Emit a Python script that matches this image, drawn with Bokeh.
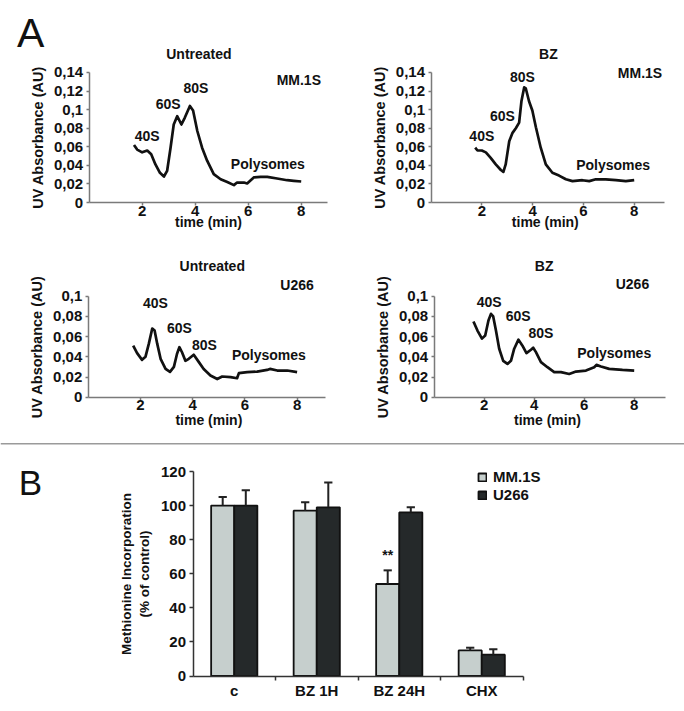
import numpy as np
from bokeh.plotting import figure
from bokeh.models import (Label, FixedTicker, Range1d, Legend, LegendItem,
                          CustomJSTickFormatter, Span)
from bokeh.layouts import column, row
from bokeh.embed import file_html
from bokeh.resources import INLINE

FONT = "Liberation Sans"

# ---------------- Panel A data (UV absorbance profiles) ----------------
mm_untr_t = [1.69, 1.81, 2.0, 2.19, 2.34, 2.5, 2.67, 2.82, 2.94, 3.07, 3.19, 3.32, 3.48, 3.61, 3.8,
             3.92, 4.08, 4.26, 4.45, 4.7, 4.96, 5.21, 5.46, 5.58, 5.84, 5.96, 6.21, 6.47, 6.72,
             7.09, 7.47, 7.72, 8.0]
mm_untr_a = [.062, .057, .054, .056, .052, .041, .032, .028, .034, .059, .084, .093, .084, .0915,
             .104, .099, .077, .059, .045, .0305, .025, .022, .0187, .0215, .0215, .0205, .027,
             .0276, .0276, .0258, .024, .0233, .0226]

mm_bz_t = [1.74, 1.83, 2.0, 2.16, 2.35, 2.55, 2.75, 2.85, 2.94, 3.08, 3.21, 3.34, 3.47, 3.56, 3.67,
           3.73, 3.86, 3.99, 4.13, 4.32, 4.52, 4.78, 5.04, 5.31, 5.57, 5.96, 6.23, 6.49, 6.88,
           7.28, 7.67, 8.0]
mm_bz_a = [.059, .056, .056, .054, .048, .041, .035, .033, .041, .066, .075, .080, .086, .109,
           .124, .123, .109, .099, .081, .059, .041, .032, .029, .025, .023, .024, .023, .025,
           .025, .024, .023, .024]

u_untr_t = [1.72, 1.87, 2.06, 2.19, 2.32, 2.45, 2.54, 2.64, 2.77, 2.96, 3.13, 3.28, 3.4, 3.49,
            3.59, 3.72, 3.85, 4.04, 4.23, 4.42, 4.68, 4.94, 5.13, 5.45, 5.7, 5.77, 6.09, 6.47,
            6.85, 6.96, 7.24, 7.62, 8.0]
u_untr_a = [.051, .0436, .037, .040, .053, .068, .066, .053, .038, .028, .025, .030, .043, .0495,
            .0445, .036, .038, .042, .035, .028, .0215, .018, .0205, .0198, .0188, .0238, .0248,
            .0254, .027, .028, .0264, .0264, .0248]

u_bz_t = [1.57, 1.73, 1.91, 2.04, 2.17, 2.27, 2.36, 2.47, 2.6, 2.76, 2.93, 3.07, 3.2, 3.37, 3.53,
          3.69, 3.87, 3.96, 4.07, 4.27, 4.53, 4.8, 5.07, 5.4, 5.67, 6.07, 6.4, 6.49, 6.67, 7.0,
          7.53, 8.0]
u_bz_a = [.075, .066, .058, .061, .076, .0825, .080, .066, .048, .036, .033, .036, .048, .057,
          .051, .0436, .047, .049, .0446, .0347, .0297, .0248, .0248, .023, .0254, .0264, .0297,
          .032, .0304, .028, .027, .0264]

x_ticks = [2, 4, 6, 8]
y_ticks_mm = [0, 0.02, 0.04, 0.06, 0.08, 0.1, 0.12, 0.14]
y_ticks_u = [0, 0.02, 0.04, 0.06, 0.08, 0.1]

# ---------------- Panel B data (methionine incorporation) ----------------
categories = ["c", "BZ 1H", "BZ 24H", "CHX"]
mm1s_vals = [100, 97, 54, 15]
mm1s_err = [5, 5, 8, 1.6]
u266_vals = [100, 99, 96, 12.5]
u266_err = [9, 14.5, 3, 3.2]
b_ticks = [0, 20, 40, 60, 80, 100, 120]

AXIS_GREY = "#7a7a7a"
TXT = "#111111"


def base_fig(W, H, ox, oy, sx, sy, x_axis=True):
    """Figure whose frame fills the whole canvas; data origin at pixel (ox, oy)."""
    kw = {}
    if not x_axis:
        kw = dict(x_axis_location=None, y_axis_location=None)
    p = figure(frame_width=W, frame_height=H,
               x_range=Range1d(-ox / sx, (W - ox) / sx),
               y_range=Range1d(-(H - oy) / sy, oy / sy),
               output_backend="svg", toolbar_location=None, min_border=0, **kw)
    p.outline_line_color = None
    p.xgrid.visible = False
    p.ygrid.visible = False
    if x_axis:
        p.xaxis.fixed_location = 0
        p.yaxis.fixed_location = 0
    return p


def add_text(p, x, y, text, size="14px", style="bold"):
    p.add_layout(Label(x=x, y=y, text=text, text_font=FONT, text_font_size=size,
                       text_font_style=style, text_align="center", text_baseline="middle",
                       text_color=TXT))


def profile(t, a, W, H, ox, oy, sx, sy, xmax, ymax, yticks, texts):
    p = base_fig(W, H, ox, oy, sx, sy)
    p.xaxis.ticker = FixedTicker(ticks=x_ticks)
    p.yaxis.ticker = FixedTicker(ticks=yticks)
    p.xaxis.bounds = (0, xmax)
    p.yaxis.bounds = (0, ymax)
    p.yaxis.formatter = CustomJSTickFormatter(code="return tick.toString().replace('.', ',');")
    for ax in (p.xaxis[0], p.yaxis[0]):
        ax.axis_line_color = AXIS_GREY
        ax.axis_line_width = 1.5
        ax.major_tick_line_color = AXIS_GREY
        ax.major_tick_line_width = 1.5
        ax.major_tick_out = 3
        ax.major_tick_in = 0
        ax.minor_tick_line_color = None
        ax.major_label_text_font = FONT
        ax.major_label_text_font_size = "15px"
        ax.major_label_text_font_style = "bold"
        ax.major_label_text_color = TXT
    p.xaxis.major_label_standoff = 0
    p.yaxis.major_label_standoff = 3
    p.yaxis.axis_label = "UV Absorbance (AU)"
    p.yaxis.axis_label_text_font = FONT
    p.yaxis.axis_label_text_font_size = "14.5px"
    p.yaxis.axis_label_text_font_style = "bold"
    p.yaxis.axis_label_text_color = TXT
    p.yaxis.axis_label_standoff = 5
    p.line(t, a, line_color="#111111", line_width=2.7, line_join="round")
    for (x, y, s) in texts:
        add_text(p, x, y, s)
    return p


tl = profile(mm_untr_t, mm_untr_a, 342, 230, 88.7, 202, 26.5, 928.6, 9.0, 0.14, y_ticks_mm,
             [(4.14, 0.1597, "Untreated"), (7.91, 0.132, "MM.1S"), (4.03, 0.123, "80S"),
              (2.98, 0.106, "60S"), (2.19, 0.072, "40S"), (6.74, 0.0413, "Polysomes"),
              (4.5, -0.0215, "time (min)")])
tl.add_layout(Label(x=-2.21, y=0.182, text="A", text_font=FONT, text_font_size="41px",
                    text_align="center", text_baseline="middle", text_color=TXT))

tr = profile(mm_bz_t, mm_bz_a, 342, 230, 88.5, 202, 25.4, 928.6, 9.2, 0.14, y_ticks_mm,
             [(4.62, 0.160, "BZ"), (8.23, 0.139, "MM.1S"), (3.6, 0.135, "80S"),
              (2.81, 0.093, "60S"), (2.0, 0.072, "40S"), (7.17, 0.0406, "Polysomes"),
              (4.5, -0.021, "time (min)")])

bl = profile(u_untr_t, u_untr_a, 342, 206, 87.8, 166.7, 26.1, 1010, 9.1, 0.1, y_ticks_u,
             [(4.75, 0.130, "Untreated"), (8.0, 0.1115, "U266"), (2.57, 0.093, "40S"),
              (3.49, 0.069, "60S"), (4.45, 0.052, "80S"), (6.92, 0.042, "Polysomes"),
              (4.62, -0.023, "time (min)")])

br = profile(u_bz_t, u_bz_a, 342, 206, 91.7, 166.7, 25.0, 1010, 9.27, 0.1, y_ticks_u,
             [(4.4, 0.130, "BZ"), (7.93, 0.112, "U266"), (2.2, 0.094, "40S"),
              (3.36, 0.080, "60S"), (4.27, 0.064, "80S"), (7.2, 0.0436, "Polysomes"),
              (4.53, -0.023, "time (min)")])

# ---------------- separator ----------------
sep = base_fig(684, 14, 0, 14, 1, 1, x_axis=False)
sep.add_layout(Span(location=6.7, dimension="width", line_color="#9a9a9a", line_width=1.5))

# ---------------- Panel B ----------------
n = len(categories)
idx = np.arange(n)
bw = 0.28
x_mm = idx + 0.5 - bw / 2
x_u = idx + 0.5 + bw / 2
mm_v = np.array(mm1s_vals, dtype=float)
mm_e = np.array(mm1s_err, dtype=float)
u_v = np.array(u266_vals, dtype=float)
u_e = np.array(u266_err, dtype=float)

pb = base_fig(684, 261, 192.5, 225.5, 82.5, 1.704)
pb.xaxis.ticker = FixedTicker(ticks=list(idx + 0.5), minor_ticks=list(idx + 1))
pb.xaxis.formatter = CustomJSTickFormatter(args=dict(names=categories),
                                           code="return names[Math.floor(tick)];")
pb.yaxis.ticker = FixedTicker(ticks=b_ticks)
pb.xaxis.bounds = (0, n)
pb.yaxis.bounds = (0, 120)
for ax in (pb.xaxis[0], pb.yaxis[0]):
    ax.axis_line_color = "#333333"
    ax.axis_line_width = 1.5
    ax.major_tick_line_color = "#333333"
    ax.major_tick_line_width = 1.5
    ax.major_label_text_font = FONT
    ax.major_label_text_font_size = "15px"
    ax.major_label_text_font_style = "bold"
    ax.major_label_text_color = TXT
pb.xaxis.major_tick_out = 0
pb.xaxis.major_tick_in = 0
pb.xaxis.minor_tick_out = 4
pb.xaxis.minor_tick_in = 0
pb.xaxis.minor_tick_line_color = "#333333"
pb.xaxis.minor_tick_line_width = 1.5
pb.xaxis.major_label_standoff = 2
pb.yaxis.major_tick_out = 4
pb.yaxis.major_tick_in = 0
pb.yaxis.minor_tick_line_color = None
pb.yaxis.major_label_standoff = 3
pb.yaxis.axis_label = "Methionine Incorporation\n(% of control)"
pb.yaxis.axis_label_text_font = FONT
pb.yaxis.axis_label_text_font_size = "13.5px"
pb.yaxis.axis_label_text_font_style = "bold"
pb.yaxis.axis_label_text_color = TXT
pb.yaxis.axis_label_standoff = 6

r_mm = pb.vbar(x=x_mm, top=mm_v, width=bw, bottom=0, fill_color="#c6cfcd",
               line_color="#111111", line_width=1.8)
r_u = pb.vbar(x=x_u, top=u_v, width=bw, bottom=0, fill_color="#25292a",
              line_color="#111111", line_width=1.8)
cap = 0.05
for xs, v, e in ((x_mm, mm_v, mm_e), (x_u, u_v, u_e)):
    pb.segment(x0=xs, y0=v, x1=xs, y1=v + e, line_color="#222222", line_width=2)
    pb.segment(x0=xs - cap, y0=v + e, x1=xs + cap, y1=v + e, line_color="#222222",
               line_width=2)

sig_i = categories.index("BZ 24H")
pb.add_layout(Label(x=x_mm[sig_i], y=mm_v[sig_i] + mm_e[sig_i] + 9, text="**", text_font=FONT,
                    text_font_size="14px", text_font_style="bold", text_align="center",
                    text_baseline="middle", text_color=TXT))
pb.add_layout(Label(x=-1.97, y=113.5, text="B", text_font=FONT, text_font_size="35px",
                    text_align="center", text_baseline="middle", text_color=TXT))

legend = Legend(items=[LegendItem(label="MM.1S", renderers=[r_mm]),
                       LegendItem(label="U266", renderers=[r_u])],
                location=(477, 208), border_line_color=None, background_fill_alpha=0,
                padding=0, margin=0, spacing=1, glyph_width=10, glyph_height=10,
                label_standoff=6, label_height=17, label_text_font=FONT,
                label_text_font_size="15px", label_text_font_style="bold",
                label_text_color=TXT)
pb.add_layout(legend)

layout = column(row(tl, tr), row(bl, br), sep, pb)
open("out.html", "w").write(file_html(layout, INLINE))
